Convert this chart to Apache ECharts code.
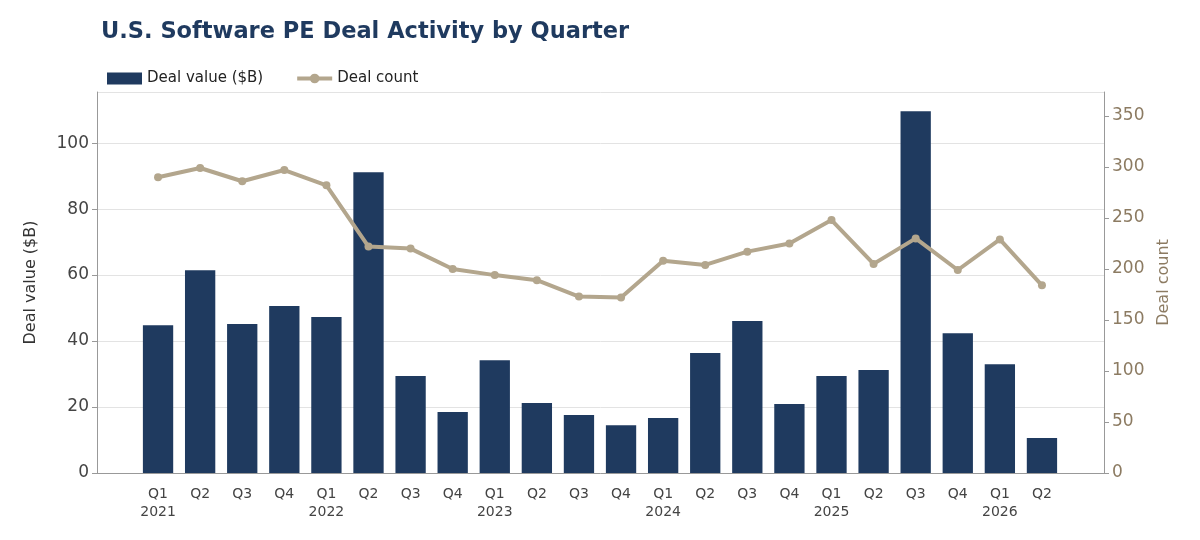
<!DOCTYPE html>
<html>
<head>
<meta charset="utf-8">
<script src="https://cdn.jsdelivr.net/npm/echarts@6/dist/echarts.min.js"></script>
<style>
  html, body { margin: 0; padding: 0; background: #fff; }
  #chart { width: 1200px; height: 540px; }
</style>
</head>
<body>
<div id="chart"></div>
<script>
// 季度标签
const quarters = ['Q1\n2021', 'Q2', 'Q3', 'Q4', 'Q1\n2022', 'Q2', 'Q3', 'Q4', 'Q1\n2023', 'Q2', 'Q3', 'Q4',
  'Q1\n2024', 'Q2', 'Q3', 'Q4', 'Q1\n2025', 'Q2', 'Q3', 'Q4', 'Q1\n2026', 'Q2']
// 交易金额 ($B)
const dealValue = [44.8, 61.5, 45.2, 50.6, 47.3, 91.2, 29.4, 18.5, 34.2, 21.2, 17.6, 14.5,
  16.7, 36.4, 46.1, 20.9, 29.4, 31.2, 109.7, 42.4, 33.0, 10.6]
// 交易数量
const dealCount = [290, 299, 286, 297, 282, 222, 220, 200, 194, 189, 173, 172,
  208, 204, 217, 225, 248, 205, 230, 199, 229, 184]

const navy = '#1f3a5f'
const tan = '#b3a68d'
const brown = '#8c7b62'

const myChart = echarts.init(document.querySelector('#chart'))
const option = {
  animation: false,
  textStyle: { fontFamily: 'DejaVu Sans' },
  title: {
    text: 'U.S. Software PE Deal Activity by Quarter',
    left: 96,
    top: 16,
    textStyle: { fontSize: 22.5, fontWeight: 'bold', color: navy }
  },
  legend: {
    left: 102,
    top: 66,
    itemGap: 32,
    itemWidth: 35,
    itemHeight: 12,
    textStyle: { fontSize: 15, color: '#222' },
    data: [
      { name: 'Deal value ($B)', icon: 'rect' },
      { name: 'Deal count', itemStyle: { color: tan }, lineStyle: { width: 4, color: tan } }
    ]
  },
  // 外框网格（轴线、分隔线）与内层网格（柱子、折线，两侧留白）
  grid: [
    { left: 97, right: 96, top: 92, bottom: 67 },
    { left: 137, right: 137, top: 92, bottom: 67 }
  ],
  xAxis: [
    {
      type: 'category',
      gridIndex: 0,
      data: [''],
      axisLine: { lineStyle: { color: '#999' } },
      axisTick: { show: false },
      axisLabel: { show: false }
    },
    {
      type: 'category',
      gridIndex: 1,
      data: quarters,
      axisLine: { show: false },
      axisTick: { show: false },
      axisLabel: { color: '#444', fontSize: 14, lineHeight: 18, margin: 12, interval: 0 }
    }
  ],
  yAxis: [
    {
      type: 'value',
      gridIndex: 0,
      min: 0,
      max: 115.5,
      interval: 20,
      name: 'Deal value ($B)',
      nameLocation: 'middle',
      nameGap: 58,
      nameTextStyle: { fontSize: 16, color: '#333' },
      axisLine: { show: true, lineStyle: { color: '#999' } },
      axisTick: { show: true, length: 5, lineStyle: { color: '#999' } },
      axisLabel: { color: '#444', fontSize: 17, showMaxLabel: false },
      splitLine: { lineStyle: { color: '#e3e3e3' } }
    },
    {
      type: 'value',
      gridIndex: 0,
      min: 0,
      max: 373.5,
      interval: 50,
      name: 'Deal count',
      nameLocation: 'middle',
      nameGap: 50,
      nameTextStyle: { fontSize: 16, color: brown },
      axisLine: { show: true, lineStyle: { color: '#999' } },
      axisTick: { show: true, length: 5, lineStyle: { color: '#999' } },
      axisLabel: { color: brown, fontSize: 17, showMaxLabel: false },
      splitLine: { show: false }
    },
    { type: 'value', gridIndex: 1, min: 0, max: 115.5, show: false },
    { type: 'value', gridIndex: 1, min: 0, max: 373.5, show: false }
  ],
  series: [
    {
      name: 'Deal value ($B)',
      type: 'bar',
      xAxisIndex: 1,
      yAxisIndex: 2,
      data: dealValue,
      barWidth: '72%',
      itemStyle: { color: navy }
    },
    {
      name: 'Deal count',
      type: 'line',
      xAxisIndex: 1,
      yAxisIndex: 3,
      data: dealCount,
      symbol: 'circle',
      symbolSize: 8,
      lineStyle: { width: 4, color: tan },
      itemStyle: { color: tan }
    }
  ]
}
myChart.setOption(option)
</script>
</body>
</html>
